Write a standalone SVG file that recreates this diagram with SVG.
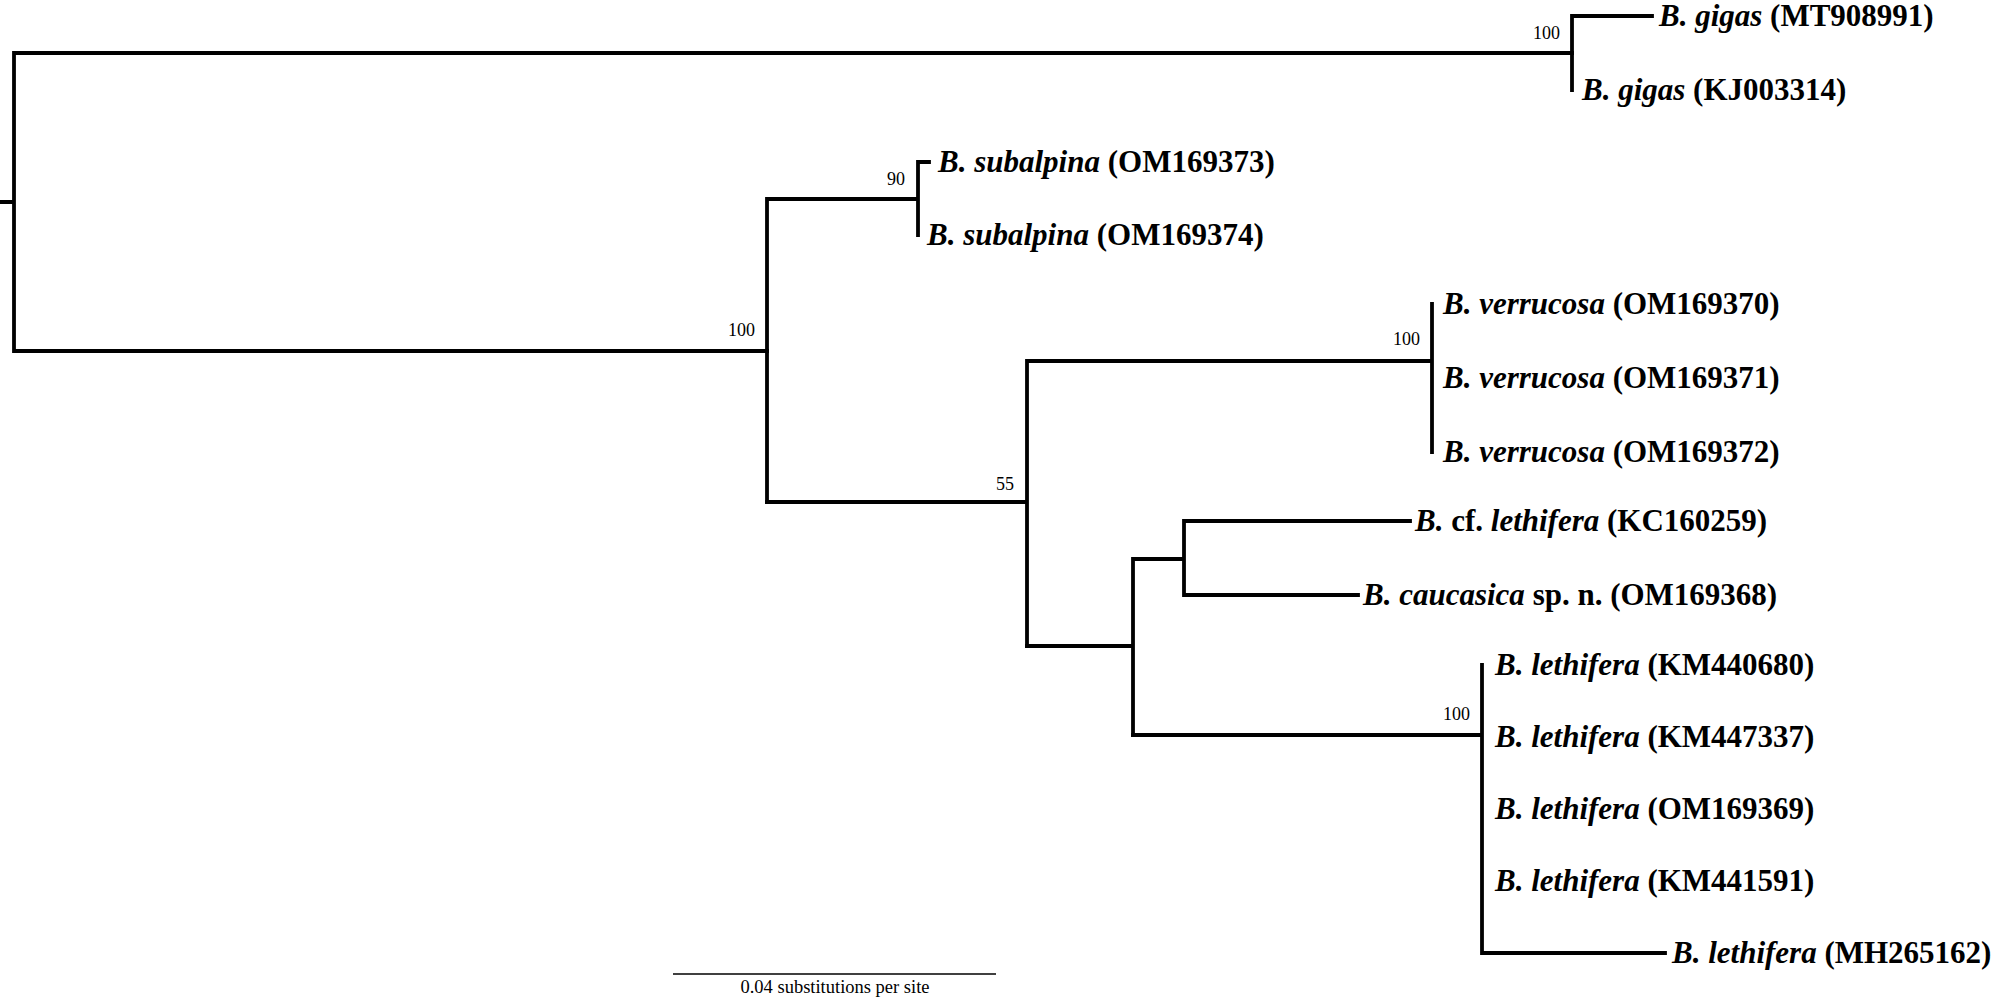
<svg xmlns="http://www.w3.org/2000/svg" width="2012" height="999" viewBox="0 0 2012 999">
<style>
.br{fill:none;stroke:#000;stroke-width:3.8;stroke-linecap:square;stroke-linejoin:miter}
.lbl{font-family:"Liberation Serif","Times New Roman",serif;font-size:31px;font-weight:bold;fill:#000}
.it{font-style:italic}
.sup{font-family:"Liberation Serif","Times New Roman",serif;font-size:18px;fill:#000;text-anchor:end}
.scale{font-family:"Liberation Serif","Times New Roman",serif;font-size:18.5px;fill:#000;text-anchor:middle}
</style>
<rect width="2012" height="999" fill="#fff"/>
<g id="connectors">
<path class="br" d="M0 202H14M14 53V351M14 53H1572M14 351H767"/>
<path class="br" d="M1572 16V90M1572 16H1652"/>
<path class="br" d="M767 199V502M767 199H918M918 162V235M918 162H929"/>
<path class="br" d="M767 502H1027M1027 361V646M1027 361H1432M1432 304V452"/>
<path class="br" d="M1027 646H1133M1133 559V735M1133 559H1184M1184 521V595M1184 521H1410M1184 595H1358"/>
<path class="br" d="M1133 735H1482M1482 665V953M1482 953H1665"/>
</g>
<g id="supports">
<g id="n-gigas"><text class="sup" x="1560" y="39">100</text></g>
<g id="n-main"><text class="sup" x="755" y="336">100</text></g>
<g id="n-subalpina"><text class="sup" x="905" y="185">90</text></g>
<g id="n-55"><text class="sup" x="1014" y="490">55</text></g>
<g id="n-verrucosa"><text class="sup" x="1420" y="345">100</text></g>
<g id="n-lethifera"><text class="sup" x="1470" y="720">100</text></g>
</g>
<g id="leaf-gigas1"><text class="lbl" x="1659" y="26"><tspan class="it">B. gigas</tspan> (MT908991)</text></g>
<g id="leaf-gigas2"><text class="lbl" x="1582" y="100"><tspan class="it">B. gigas</tspan> (KJ003314)</text></g>
<g id="leaf-subalpina1"><text class="lbl" x="938" y="172"><tspan class="it">B. subalpina</tspan> (OM169373)</text></g>
<g id="leaf-subalpina2"><text class="lbl" x="927" y="245"><tspan class="it">B. subalpina</tspan> (OM169374)</text></g>
<g id="leaf-verrucosa1"><text class="lbl" x="1443" y="314"><tspan class="it">B. verrucosa</tspan> (OM169370)</text></g>
<g id="leaf-verrucosa2"><text class="lbl" x="1443" y="388"><tspan class="it">B. verrucosa</tspan> (OM169371)</text></g>
<g id="leaf-verrucosa3"><text class="lbl" x="1443" y="462"><tspan class="it">B. verrucosa</tspan> (OM169372)</text></g>
<g id="leaf-cf-lethifera"><text class="lbl" x="1415" y="531"><tspan class="it">B.</tspan> cf. <tspan class="it">lethifera</tspan> (KC160259)</text></g>
<g id="leaf-caucasica"><text class="lbl" x="1363" y="605"><tspan class="it">B. caucasica</tspan> sp. n. (OM169368)</text></g>
<g id="leaf-lethifera1"><text class="lbl" x="1495" y="675"><tspan class="it">B. lethifera</tspan> (KM440680)</text></g>
<g id="leaf-lethifera2"><text class="lbl" x="1495" y="747"><tspan class="it">B. lethifera</tspan> (KM447337)</text></g>
<g id="leaf-lethifera3"><text class="lbl" x="1495" y="819"><tspan class="it">B. lethifera</tspan> (OM169369)</text></g>
<g id="leaf-lethifera4"><text class="lbl" x="1495" y="891"><tspan class="it">B. lethifera</tspan> (KM441591)</text></g>
<g id="leaf-lethifera5"><text class="lbl" x="1672" y="963"><tspan class="it">B. lethifera</tspan> (MH265162)</text></g>
<g id="scalebar">
<path d="M673 974H996" stroke="#000" stroke-width="1.5" fill="none"/>
<text class="scale" x="835" y="993">0.04 substitutions per site</text>
</g>
</svg>
